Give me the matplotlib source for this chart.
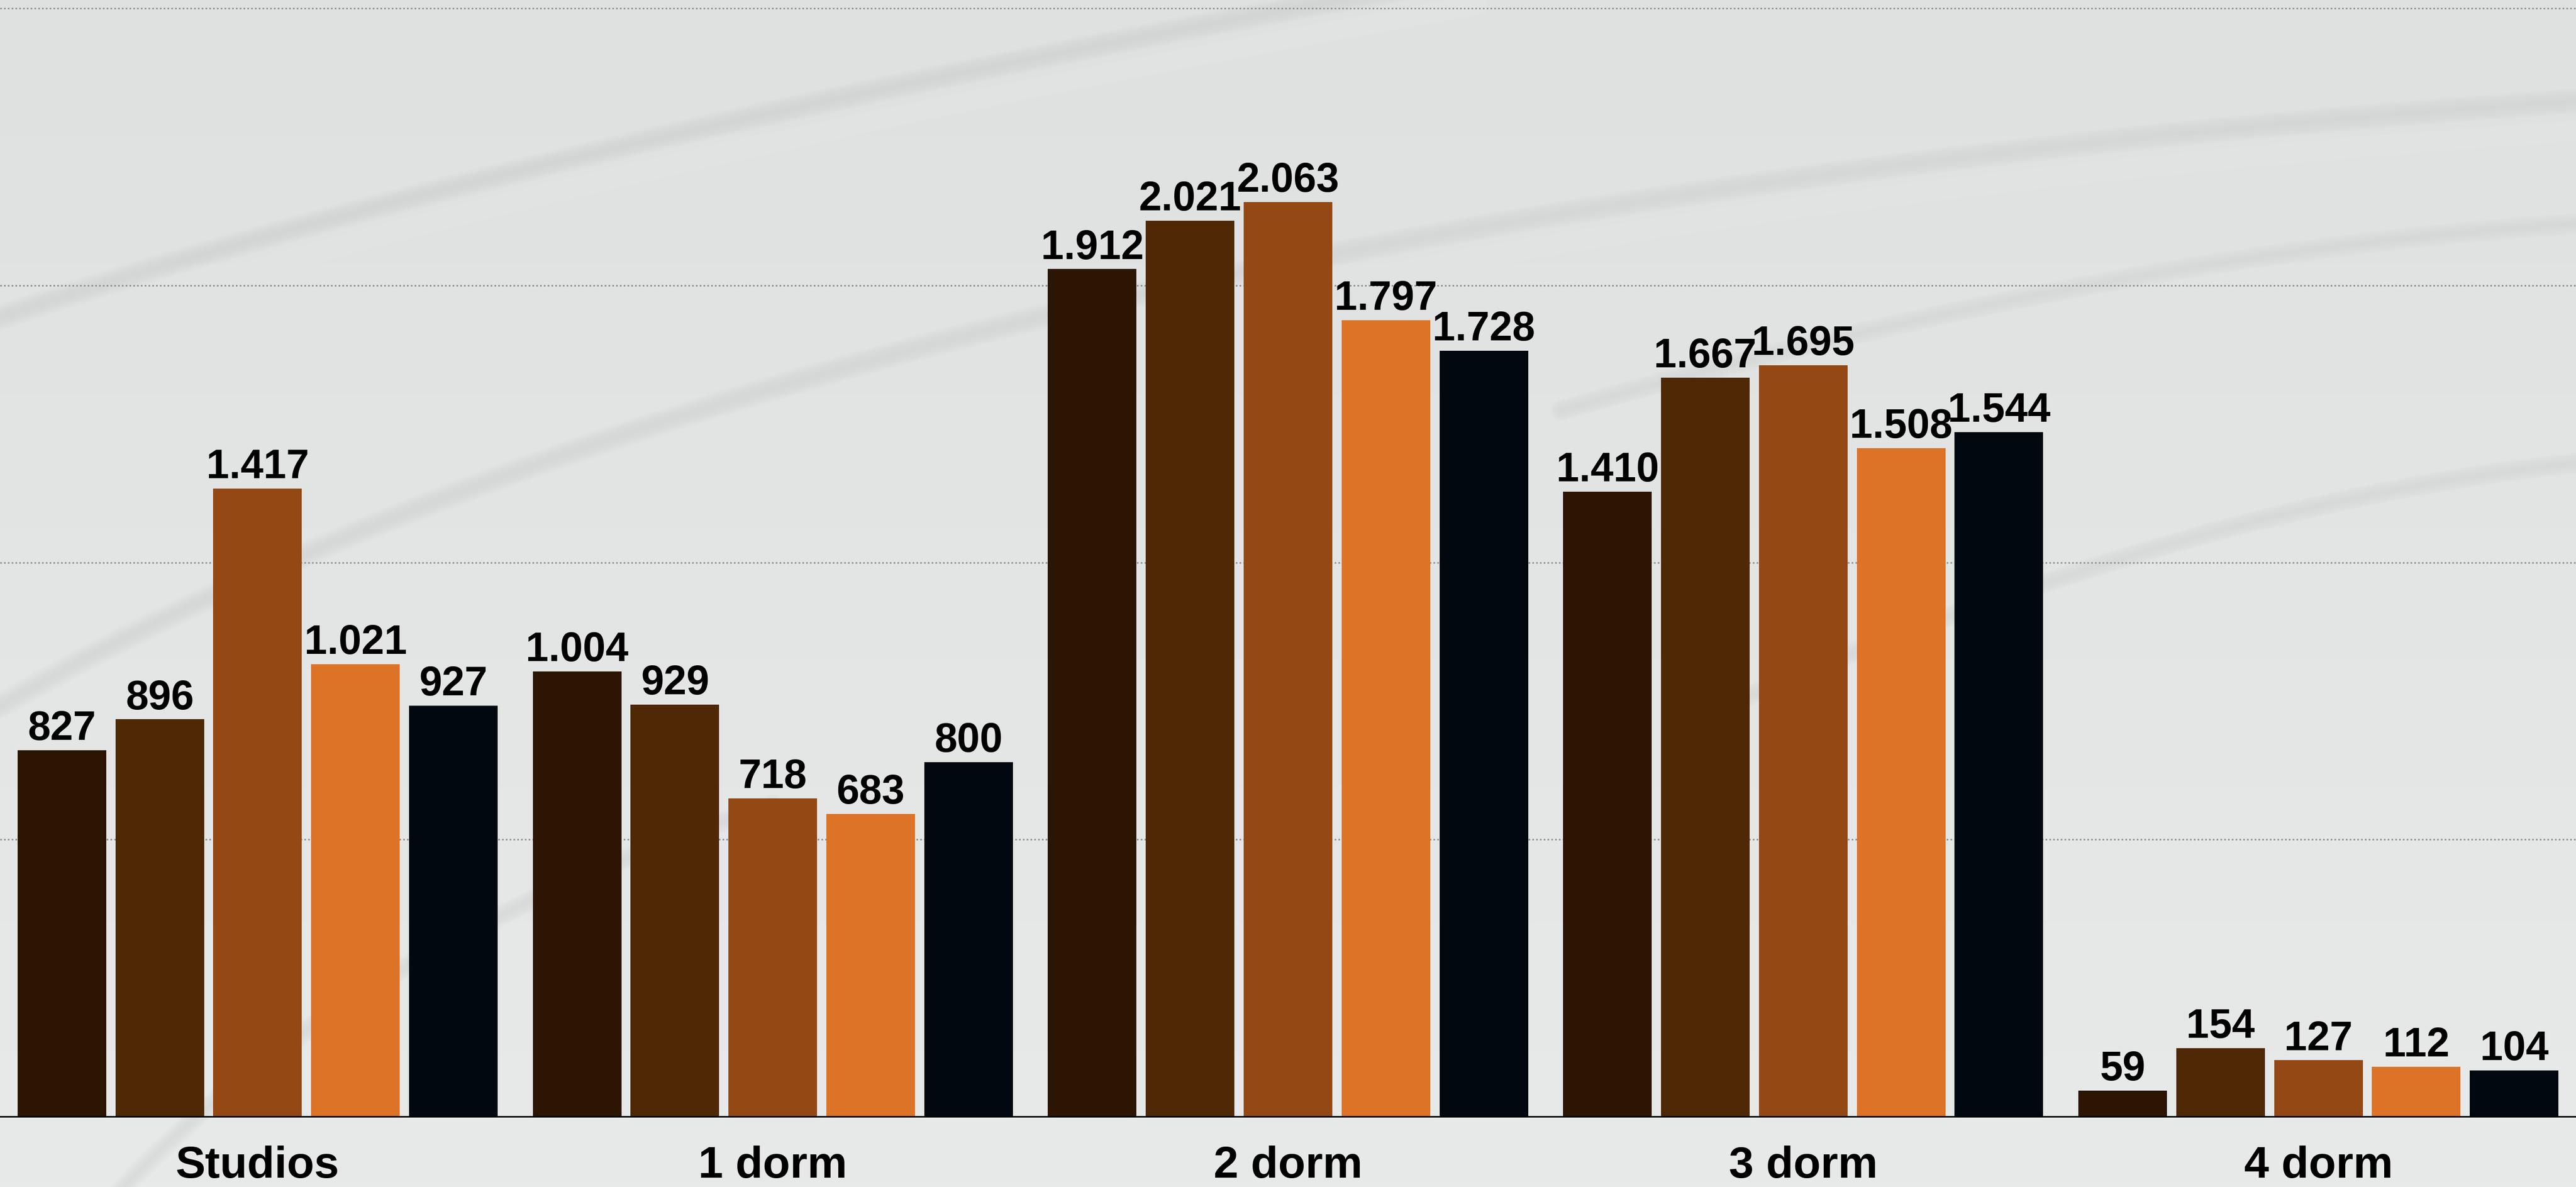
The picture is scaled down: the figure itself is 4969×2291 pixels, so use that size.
import numpy as np
import matplotlib.pyplot as plt
from matplotlib.path import Path
from matplotlib.patches import PathPatch

# --------------------------------------------------------------
# DATA
# --------------------------------------------------------------
categorias = ["Studios", "1 dorm", "2 dorm", "3 dorm", "4 dorm"]

serie_1 = [827, 1004, 1912, 1410, 59]
serie_2 = [896, 929, 2021, 1667, 154]
serie_3 = [1417, 718, 2063, 1695, 127]
serie_4 = [1021, 683, 1797, 1508, 112]
serie_5 = [927, 800, 1728, 1544, 104]

series = [serie_1, serie_2, serie_3, serie_4, serie_5]
cores = ["#2d1503", "#4f2806", "#944814", "#dd7326", "#010810"]

grid_vals = [625, 1250, 1875, 2500]

plt.rcParams["font.family"] = ["Liberation Sans", "DejaVu Sans"]

# --------------------------------------------------------------
# FIGURE + FUNDO
# --------------------------------------------------------------
fig = plt.figure(figsize=(49.69, 22.91), dpi=100)
fig.patch.set_facecolor("#e3e4e4")

bg = fig.add_axes([0, 0, 1, 1], zorder=0)
grad = np.linspace(0, 1, 256).reshape(-1, 1)
bg.imshow(grad, extent=[0, 1, 0, 1], aspect="auto", origin="upper",
          cmap=plt.matplotlib.colors.LinearSegmentedColormap.from_list(
              "fundo", ["#dfe0e0", "#e8e9e9"]))

# faixas curvas decorativas (coords em pixels da imagem reduzida 1568x723)
def swoosh(p0, c, p1, cor, larg, alfa):
    verts = [(p0[0] / 1568, 1 - p0[1] / 723), (c[0] / 1568, 1 - c[1] / 723),
             (p1[0] / 1568, 1 - p1[1] / 723)]
    path = Path(verts, [Path.MOVETO, Path.CURVE3, Path.CURVE3])
    for k in range(8):
        bg.add_patch(PathPatch(path, facecolor="none", edgecolor=cor,
                               lw=larg * (1 + k * 0.7), alpha=alfa,
                               capstyle="round"))

swoosh((-20, 200), (300, 90), (900, -15), "#c9caca", 6, 0.07)
swoosh((-20, 218), (300, 108), (900, 3), "#f2f3f3", 5, 0.06)
swoosh((0, 430), (520, 130), (1590, 60), "#c9caca", 6, 0.06)
swoosh((0, 448), (520, 148), (1590, 78), "#f2f3f3", 5, 0.06)
swoosh((950, 250), (1300, 150), (1590, 135), "#cacbcb", 5, 0.05)
swoosh((1050, 430), (1350, 300), (1590, 280), "#cacbcb", 5, 0.05)
swoosh((120, 740), (260, 560), (520, 470), "#f2f3f3", 5, 0.06)
swoosh((60, 740), (200, 580), (470, 490), "#cbcccc", 5, 0.05)
bg.set_xlim(0, 1)
bg.set_ylim(0, 1)
bg.axis("off")

# --------------------------------------------------------------
# GRAFICO DE BARRAS
# --------------------------------------------------------------
ax = fig.add_axes([0, (2291 - 2155) / 2291, 1, 2155 / 2291], zorder=1)
ax.patch.set_alpha(0)

x = np.arange(len(categorias))
passo = 0.19
largura = 0.172

for i, (vals, cor) in enumerate(zip(series, cores)):
    pos = x + (i - 2) * passo
    barras = ax.bar(pos, vals, width=largura, color=cor, zorder=3)
    for b, v in zip(barras, vals):
        ax.annotate(f"{v:,}".replace(",", "."),
                    (b.get_x() + b.get_width() / 2, v),
                    xytext=(0, 2), textcoords="offset points",
                    ha="center", va="bottom", fontsize=57,
                    fontweight="bold", color="black", zorder=4)

for g in grid_vals:
    ax.axhline(g, color="#8f8f8f", lw=2.2, linestyle=(0, (1, 1.4)), zorder=1)

ax.set_xlim(-0.5, 4.5)
ax.set_ylim(0, 2519)
ax.set_yticks([])
ax.set_xticks(x)
ax.set_xticklabels(categorias, fontsize=62, fontweight="bold")
ax.tick_params(axis="x", length=0, pad=40)

for s in ["top", "left", "right"]:
    ax.spines[s].set_visible(False)
ax.spines["bottom"].set_linewidth(2.2)
ax.spines["bottom"].set_color("black")
ax.spines["bottom"].set_zorder(5)

fig.savefig("out.png", dpi=100, facecolor=fig.get_facecolor())
